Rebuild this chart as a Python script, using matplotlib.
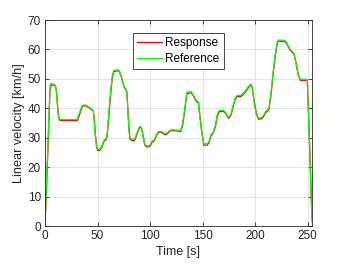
import matplotlib.pyplot as plt

# time knots [s]
t = [0, 1, 3, 4.8, 6, 9, 10, 11, 12, 13, 14, 30, 31, 33, 35, 36, 39, 41, 43,
     45, 46, 47, 48, 49, 50, 52, 54, 56, 58, 59, 60, 62, 64, 65.5, 70, 71, 73,
     75, 77, 78, 79, 80, 81, 85, 86, 88, 90, 91, 92, 94, 95, 97, 99, 100, 102,
     104, 106, 108, 111, 113, 115, 117, 119, 121, 126, 129, 131, 133, 135, 139,
     141, 144, 146, 147, 149, 151, 154, 156, 158, 160, 162, 164, 166, 170, 172,
     174, 175, 177, 179, 181, 183, 186, 188, 190, 192, 194, 196, 197, 199, 201,
     203, 206, 208, 210, 213, 215, 217, 219, 221, 222, 228, 230, 233, 236, 237,
     239, 241, 243, 249, 249.6, 250, 252, 254, 255]

reference = [0, 10, 30, 48, 48.4, 48.1, 47.6, 45, 40, 36.6, 36.2, 36.2, 36.5,
             38.7, 40.6, 41.1, 41.1, 40.6, 40.1, 39.6, 39.1, 35, 30, 27, 26.1,
             26.1, 27.1, 29.1, 29.6, 30.6, 35, 44, 51, 52.9, 53.1, 52.6, 50.1,
             47.6, 46.6, 45, 38, 32, 29.6, 29.4, 30.1, 32.1, 33.8, 33.8, 33,
             29, 27.6, 27.3, 27.3, 27.6, 28.9, 29.3, 31.1, 32.1, 32.1, 31.6,
             31.3, 31.9, 32.6, 32.7, 32.6, 32.4, 35, 40, 45.4, 45.7, 44.6, 42.6,
             42.1, 38, 32, 28.1, 27.9, 28.6, 31.1, 31.9, 34, 38, 39.3, 39.3,
             38.6, 37.3, 37.0, 38.1, 41, 43.5, 44.4, 44.4, 44.8, 45.6, 46.6,
             47.6, 48.3, 47.5, 42, 38, 36.7, 36.8, 37.6, 38.9, 39.9, 45, 52,
             58, 62.6, 63.2, 63.1, 62.4, 60.1, 59.1, 58.6, 55, 51, 49.9, 49.9,
             49.6, 45, 24, 2, 0]

response = [0, 9, 28, 46.5, 48, 47.8, 47.4, 45.6, 41, 37.2, 35.9, 35.8, 35.9,
            38, 40.2, 40.8, 40.8, 40.4, 39.8, 39.3, 39, 35.8, 31, 27.6, 25.7,
            25.7, 26.6, 28.7, 29.2, 30.2, 34, 42.8, 50.2, 52.5, 52.8, 52.4,
            50.4, 47.4, 46.3, 45.3, 39, 33, 29.3, 29, 29.7, 31.6, 33.5, 33.6,
            33.1, 29.6, 27.4, 26.9, 26.9, 27.2, 28.5, 29, 30.7, 31.8, 31.8,
            31.3, 31, 31.5, 32.3, 32.4, 32.3, 32.1, 34.2, 39.2, 44.9, 45.3,
            44.4, 42.3, 41.8, 38.8, 32.8, 27.5, 27.4, 28.2, 30.6, 31.6, 33.5,
            37.4, 38.9, 38.9, 38.3, 37, 36.6, 37.7, 40.5, 43, 44, 44, 44.4,
            45.2, 46.2, 47.2, 47.9, 47.4, 42.6, 38.5, 36.3, 36.4, 37.2, 38.5,
            39.5, 44.3, 51.3, 57.4, 62.2, 62.8, 62.7, 62, 59.8, 58.8, 58.3,
            55.4, 51.4, 49.5, 49.5, 49.4, 46, 26, 3, 0]

plt.rcParams['font.family'] = ['Liberation Sans', 'DejaVu Sans']
fig = plt.figure(figsize=(3.45, 2.64), dpi=100)
ax = fig.add_axes([0.1304, 0.1439, 0.9035 - 0.1304, 0.9242 - 0.1439])

ax.plot(t, response, color=(1, 0, 0), lw=0.9, label='Response')
ax.plot(t, reference, color=(0, 1, 0), lw=0.9, label='Reference')

ax.set_xlim(0, 253.8)
ax.set_ylim(0, 70)
ax.set_xticks([0, 50, 100, 150, 200, 250])
ax.set_yticks(range(0, 71, 10))
ax.grid(True, color='#dfdfdf', lw=0.6)
ax.set_axisbelow(True)

dark = '#262626'
for s in ax.spines.values():
    s.set_color(dark)
    s.set_linewidth(0.6)
ax.tick_params(direction='in', length=3, width=0.6, colors=dark, labelsize=8.5,
               top=True, right=True, pad=3)
ax.set_xlabel('Time [s]', fontsize=9, color=dark, labelpad=3)
ax.set_ylabel('Linear velocity [km/h]', fontsize=9.2, color=dark, labelpad=1.5)

leg = ax.legend(loc='upper center', bbox_to_anchor=(0.5, 0.965), fontsize=8.5,
                fancybox=False, edgecolor=dark, framealpha=1,
                handlelength=2.1, borderpad=0.35, labelspacing=0.3,
                handletextpad=0.3)
leg.get_frame().set_linewidth(0.6)

fig.savefig('out.png', dpi=100)
